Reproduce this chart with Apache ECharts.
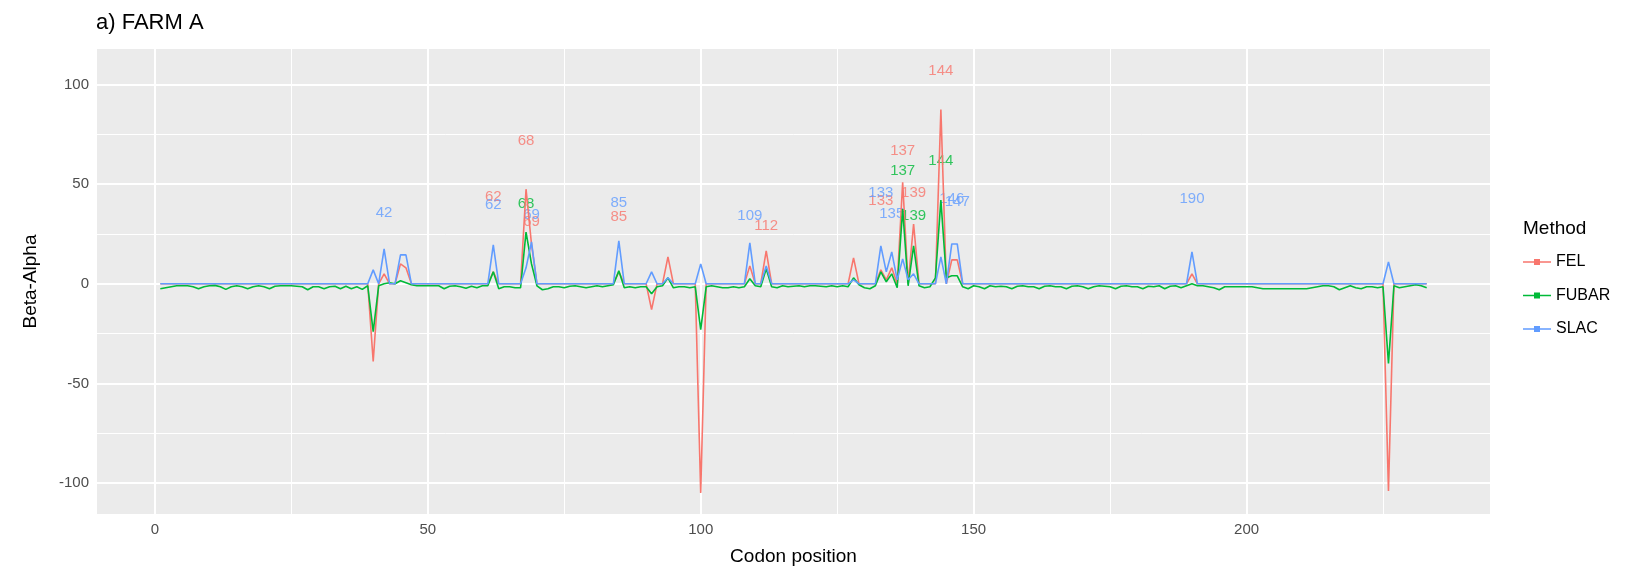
<!DOCTYPE html>
<html lang="en">
<head>
<meta charset="UTF-8">
<title>a) FARM A</title>
<script src="https://cdn.jsdelivr.net/npm/echarts@6/dist/echarts.min.js"></script>
<style>
    html, body { margin: 0; padding: 0; background: #fff; }
    #main { width: 1629px; height: 571px; }
</style>
</head>
<body>
<div id="main"></div>
<script type="text/javascript">
    // Beta-Alpha per codon (codon 1..233)
    var fel = [
        0, 0, 0, 0, 0, 0, 0, 0, 0, 0,
        0, 0, 0, 0, 0, 0, 0, 0, 0, 0,
        0, 0, 0, 0, 0, 0, 0, 0, 0, 0,
        0, 0, 0, 0, 0, 0, 0, 0, 0, -39,
        0, 5, 0, 0, 10, 8, 0, 0, 0, 0,
        0, 0, 0, 0, 0, 0, 0, 0, 0, 0,
        0, 6, 0, 0, 0, 0, 0, 47.5, 20, 0,
        0, 0, 0, 0, 0, 0, 0, 0, 0, 0,
        0, 0, 0, 0, 6, 0, 0, 0, 0, 0,
        -13, 0, 0, 13.5, 0, 0, 0, 0, 0, -105,
        0, 0, 0, 0, 0, 0, 0, 0, 9, 0,
        0, 16.5, 0, 0, 0, 0, 0, 0, 0, 0,
        0, 0, 0, 0, 0, 0, 0, 13, 0, 0,
        0, 0, 7, 2, 8, 0, 51, 0, 30, 0,
        0, 0, 0, 87.5, 0, 12, 12, 0, 0, 0,
        0, 0, 0, 0, 0, 0, 0, 0, 0, 0,
        0, 0, 0, 0, 0, 0, 0, 0, 0, 0,
        0, 0, 0, 0, 0, 0, 0, 0, 0, 0,
        0, 0, 0, 0, 0, 0, 0, 0, 0, 5,
        0, 0, 0, 0, 0, 0, 0, 0, 0, 0,
        0, 0, 0, 0, 0, 0, 0, 0, 0, 0,
        0, 0, 0, 0, 0, 0, 0, 0, 0, 0,
        0, 0, 0, 0, 0, -104, 0, 0, 0, 0,
        0, 0, 0
    ];
    var fubar = [
        -2.5, -2, -1.5, -1, -1, -1, -1.5, -2.5, -1.5, -1,
        -0.8, -1.5, -2.8, -1.5, -1, -1.5, -2.5, -1.5, -1, -1.5,
        -2.5, -1.2, -1, -1, -1, -1.2, -1.5, -3, -1.5, -1.5,
        -2.5, -1.5, -1.2, -2.5, -1.2, -2.5, -1.5, -2.8, -1, -24,
        -1, 0, 0.5, 0, 1.5, 0.5, -0.5, -1, -1, -1,
        -1, -1, -2.5, -1.2, -1, -1.5, -2.2, -1.2, -2, -1,
        -1, 6, -2.5, -1.5, -1.5, -2, -2, 26, 10, -1,
        -3, -2.5, -1.5, -1.5, -2, -1.2, -1, -1.5, -2, -1.5,
        -1, -1.5, -1, -0.5, 6.5, -2, -1.5, -2, -1.5, -1.5,
        -5, -1.5, -1, 3, -2, -1.5, -1.5, -2, -1.5, -23,
        -1.5, -1, -1.5, -2, -2, -1.5, -2, -1.5, 2.5, -1,
        -1.5, 7.5, -1.5, -2, -1, -1.5, -1.2, -1, -1.5, -1,
        -1, -1.2, -1.5, -1, -1.5, -1, -1.5, 3, -0.5, -2,
        -2.5, -1, 6, 1, 5, -2, 37.5, -1, 19, -1,
        -2, -1.5, 3, 42, 3, 4, 4, -1.5, -2.5, -1,
        -1.5, -2.5, -1, -1.5, -1.2, -1.5, -2.5, -1.2, -1, -1.5,
        -1.5, -2.5, -1.2, -1, -1.5, -1.5, -2.5, -1.2, -1, -1.5,
        -2.5, -1.5, -1, -1.2, -1.5, -2.5, -1.2, -1, -1.5, -1.5,
        -2.5, -1.2, -1.5, -1, -2.5, -1.2, -1, -2, -1, 0,
        -1, -1, -1.5, -2, -3, -1.5, -1.5, -1.5, -1.5, -1.5,
        -1.5, -2, -2.5, -2.5, -2.5, -2.5, -2.5, -2.5, -2.5, -2.5,
        -2.5, -2, -1.5, -1, -1, -1.5, -3, -2, -1, -2,
        -2.5, -1.5, -1.5, -2, -1.5, -40, -1, -2, -1.5, -1,
        -0.5, -1, -2
    ];
    var slac = [
        0, 0, 0, 0, 0, 0, 0, 0, 0, 0,
        0, 0, 0, 0, 0, 0, 0, 0, 0, 0,
        0, 0, 0, 0, 0, 0, 0, 0, 0, 0,
        0, 0, 0, 0, 0, 0, 0, 0, 0, 7,
        0, 17.5, 0, 0, 14.5, 14.5, 0, 0, 0, 0,
        0, 0, 0, 0, 0, 0, 0, 0, 0, 0,
        0, 19.5, 0, 0, 0, 0, 0, 8, 21, 0,
        0, 0, 0, 0, 0, 0, 0, 0, 0, 0,
        0, 0, 0, 0, 21.5, 0, 0, 0, 0, 0,
        6, 0, 0, 3, 0, 0, 0, 0, 0, 10,
        0, 0, 0, 0, 0, 0, 0, 0, 20.5, 0,
        0, 9, 0, 0, 0, 0, 0, 0, 0, 0,
        0, 0, 0, 0, 0, 0, 0, 2, 0, 0,
        0, 0, 19, 6, 16, 2, 12.5, 2, 5, 0,
        0, 0, 0, 13.5, 0, 20, 20, 0, 0, 0,
        0, 0, 0, 0, 0, 0, 0, 0, 0, 0,
        0, 0, 0, 0, 0, 0, 0, 0, 0, 0,
        0, 0, 0, 0, 0, 0, 0, 0, 0, 0,
        0, 0, 0, 0, 0, 0, 0, 0, 0, 16,
        0, 0, 0, 0, 0, 0, 0, 0, 0, 0,
        0, 0, 0, 0, 0, 0, 0, 0, 0, 0,
        0, 0, 0, 0, 0, 0, 0, 0, 0, 0,
        0, 0, 0, 0, 0, 11, 0, 0, 0, 0,
        0, 0, 0
    ];

    // site labels: [codon, height of the text]
    var felLabels = [[62, 43.8], [68, 71.9], [69, 31.3], [85, 33.4], [112, 29.3],
        [133, 41.7], [137, 66.7], [139, 45.8], [144, 106.7]];
    var fubarLabels = [[68, 40.2], [137, 56.7], [139, 34.2], [144, 61.7]];
    var slacLabels = [[42, 35.5], [62, 39.6], [69, 34.5], [85, 40.7], [109, 34],
        [133, 45.8], [135, 35], [146, 42.5], [147, 41], [190, 42.5]];

    var methods = ['FEL', 'FUBAR', 'SLAC'];
    var xMajor = [0, 50, 100, 150, 200];
    var xMinor = [25, 75, 125, 175, 225];
    var yMajor = [-100, -50, 0, 50, 100];
    var yMinor = [-75, -25, 25, 75];

    var FONT = "'Liberation Sans', Arial, sans-serif";
    var colors = {FEL: '#F8766D', FUBAR: '#00BA38', SLAC: '#619CFF'};

    function pairs(values) {
        var out = [];
        for (var i = 0; i < values.length; i++) {
            out.push([i + 1, values[i]]);
        }
        return out;
    }

    function gridLines(vals, key, width) {
        return vals.map(function (v) {
            var o = {lineStyle: {width: width}};
            o[key] = v;
            return o;
        });
    }

    function labelSeries(name, pts) {
        return {
            name: name + ' sites',
            type: 'scatter',
            data: pts,
            symbolSize: 1,
            itemStyle: {color: 'rgba(0,0,0,0)'},
            silent: true,
            z: 2,
            label: {
                show: true,
                position: 'inside',
                color: colors[name],
                fontSize: 15,
                fontFamily: FONT,
                formatter: function (p) { return String(p.value[0]); }
            }
        };
    }

    function lineSeries(name, values) {
        return {
            name: name,
            type: 'line',
            color: colors[name],
            data: pairs(values),
            showSymbol: false,
            symbol: 'none',
            silent: true,
            z: 3,
            lineStyle: {width: 1.6, color: colors[name]}
        };
    }

    var chart = echarts.init(document.getElementById('main'));

    var option = {
        animation: false,
        textStyle: {fontFamily: FONT},
        title: [
            {text: 'a) FARM A', left: 96, top: 12, padding: 0,
                textStyle: {fontSize: 22, fontWeight: 'normal', color: '#000', fontFamily: FONT}},
            {text: 'Method', left: 1523, top: 219, padding: 0,
                textStyle: {fontSize: 19, fontWeight: 'normal', color: '#000', fontFamily: FONT}}
        ],
        legend: {
            data: methods,
            orient: 'vertical',
            left: 1523,
            top: 254,
            padding: 0,
            itemGap: 17.5,
            itemWidth: 28,
            itemHeight: 6,
            icon: 'path://M0,2.2L11,2.2L11,0L17,0L17,2.2L28,2.2L28,3.8L17,3.8L17,6L11,6L11,3.8L0,3.8Z',
            selectedMode: false,
            textStyle: {fontSize: 16, color: '#000', fontFamily: FONT}
        },
        grid: {
            left: 97, right: 139, top: 49, bottom: 54,
            show: true, backgroundColor: '#EBEBEB', borderWidth: 0
        },
        xAxis: {
            type: 'value', min: -10.6, max: 244.6,
            name: 'Codon position', nameLocation: 'middle', nameGap: 33,
            nameTextStyle: {fontSize: 19, color: '#000', fontFamily: FONT},
            axisLine: {show: false},
            axisTick: {show: true, customValues: xMajor, length: 5, lineStyle: {color: '#333333', width: 1}},
            axisLabel: {customValues: xMajor, fontSize: 15, color: '#4D4D4D', margin: 8},
            splitLine: {show: false}
        },
        yAxis: {
            type: 'value', min: -115.6, max: 117.9,
            name: 'Beta-Alpha', nameLocation: 'middle', nameGap: 57,
            nameTextStyle: {fontSize: 19, color: '#000', fontFamily: FONT},
            axisLine: {show: false},
            axisTick: {show: true, customValues: yMajor, length: 5, lineStyle: {color: '#333333', width: 1}},
            axisLabel: {customValues: yMajor, fontSize: 15, color: '#4D4D4D', margin: 8},
            splitLine: {show: false}
        },
        series: [
            {
                name: 'grid',
                type: 'line',
                data: [],
                silent: true,
                z: 1,
                markLine: {
                    silent: true,
                    z: 1,
                    symbol: ['none', 'none'],
                    label: {show: false},
                    lineStyle: {color: '#FFFFFF', type: 'solid'},
                    data: gridLines(xMinor, 'xAxis', 1).concat(
                        gridLines(yMinor, 'yAxis', 1),
                        gridLines(xMajor, 'xAxis', 2),
                        gridLines(yMajor, 'yAxis', 2))
                }
            },
            labelSeries('FEL', felLabels),
            labelSeries('FUBAR', fubarLabels),
            labelSeries('SLAC', slacLabels),
            lineSeries('FEL', fel),
            lineSeries('FUBAR', fubar),
            lineSeries('SLAC', slac)
        ]
    };

    chart.setOption(option);
</script>
</body>
</html>
